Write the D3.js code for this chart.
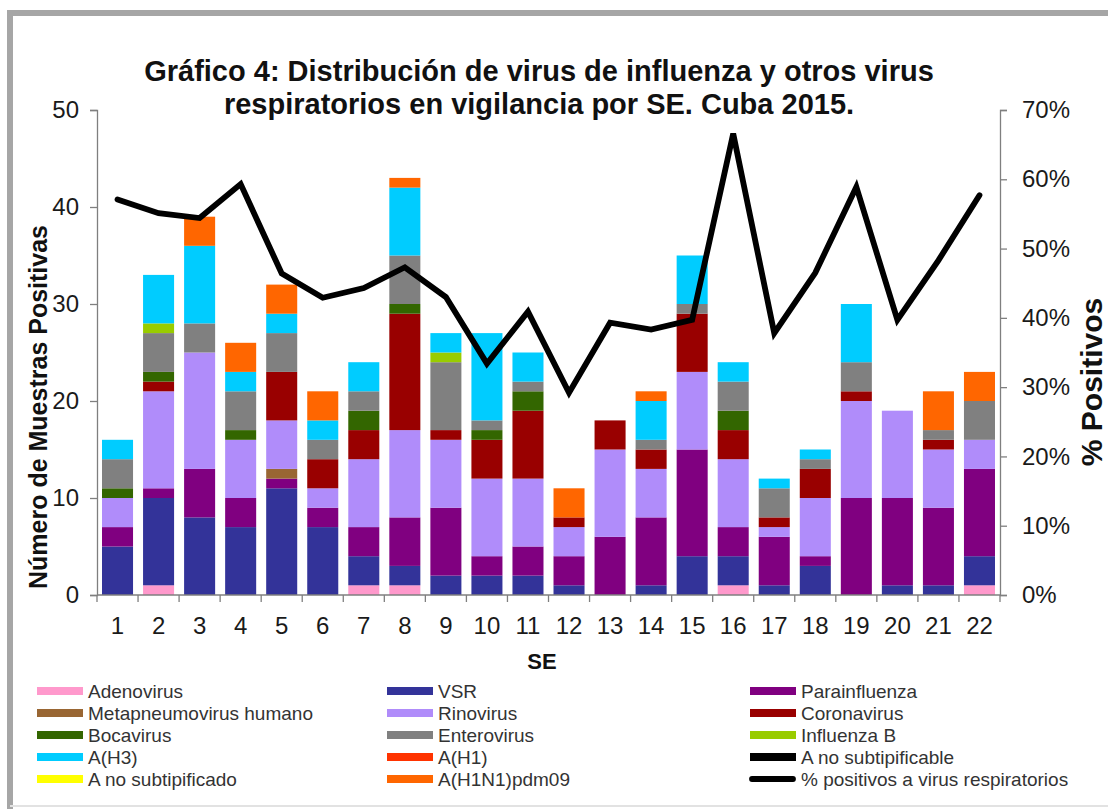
<!DOCTYPE html>
<html><head><meta charset="utf-8">
<script src="https://cdn.jsdelivr.net/npm/d3@7"></script>
<style>
html,body{margin:0;padding:0;background:#fff;}
svg text{font-family:"Liberation Sans",Arial,sans-serif;}
</style></head>
<body>
<svg id="chart" width="1108" height="809"></svg>
<script>
const weeks = ["1","2","3","4","5","6","7","8","9","10","11","12","13","14","15","16","17","18","19","20","21","22"];
const seriesNames = ["Adenovirus","VSR","Parainfluenza","Metapneumovirus humano","Rinovirus","Coronavirus","Bocavirus","Enterovirus","Influenza  B","A(H3)","A(H1)","A no subtipificable","A no subtipificado","A(H1N1)pdm09"];
const seriesColors = ["#FF99CC","#333399","#800080","#996633","#B08CFA","#990000","#336600","#808080","#99CC00","#00CCFF","#FF3300","#000000","#FFFF00","#FF6600"];
const adenovirus     = [0,1,0,0,0,0,1,1,0,0,0,0,0,0,0,1,0,0,0,0,0,1];
const vsr            = [5,9,8,7,11,7,3,2,2,2,2,1,0,1,4,3,1,3,0,1,1,3];
const parainfluenza  = [2,1,5,3,1,2,3,5,7,2,3,3,6,7,11,3,5,1,10,9,8,9];
const metapneumo     = [0,0,0,0,1,0,0,0,0,0,0,0,0,0,0,0,0,0,0,0,0,0];
const rinovirus      = [3,10,12,6,5,2,7,9,7,8,7,3,9,5,8,7,1,6,10,9,6,3];
const coronavirus    = [0,1,0,0,5,3,3,12,1,4,7,1,3,2,6,3,1,3,1,0,1,0];
const bocavirus      = [1,1,0,1,0,0,2,1,0,1,2,0,0,0,0,2,0,0,0,0,0,0];
const enterovirus    = [3,4,3,4,4,2,2,5,7,1,1,0,0,1,1,3,3,1,3,0,1,4];
const influenzaB     = [0,1,0,0,0,0,0,0,1,0,0,0,0,0,0,0,0,0,0,0,0,0];
const aH3            = [2,5,8,2,2,2,3,7,2,9,3,0,0,4,5,2,1,1,6,0,0,0];
const aH1            = [0,0,0,0,0,0,0,0,0,0,0,0,0,0,0,0,0,0,0,0,0,0];
const aNoSubtipificable = [0,0,0,0,0,0,0,0,0,0,0,0,0,0,0,0,0,0,0,0,0,0];
const aNoSubtipificado  = [0,0,0,0,0,0,0,0,0,0,0,0,0,0,0,0,0,0,0,0,0,0];
const aH1N1pdm09     = [0,0,3,3,3,3,0,1,0,0,0,3,0,1,0,0,0,0,0,0,4,3];
const pctPositivos   = [57.1,55.1,54.4,59.3,46.4,42.9,44.3,47.3,43.0,33.4,40.9,29.2,39.3,38.3,39.7,66.6,37.8,46.5,58.9,39.7,48.3,57.7];
const leftTicks  = [0,10,20,30,40,50];
const rightTicks = [0,0.1,0.2,0.3,0.4,0.5,0.6,0.7];
const lineLabel = "% positivos a virus respiratorios";

const seriesValues = [adenovirus,vsr,parainfluenza,metapneumo,rinovirus,coronavirus,bocavirus,enterovirus,influenzaB,aH3,aH1,aNoSubtipificable,aNoSubtipificado,aH1N1pdm09];

const svg = d3.select("#chart");

// outer frame
svg.append("path").attr("d","M10,809 L10,13 L1108,13").attr("fill","none").attr("stroke","#a6a6a6").attr("stroke-width",6);
svg.append("line").attr("x1",10).attr("x2",1108).attr("y1",806).attr("y2",806).attr("stroke","#e2e2e2").attr("stroke-width",2);

const L = 97, R = 1000, T = 110, B = 595;
const x = d3.scaleBand().domain(weeks).range([L, R]).paddingInner(0.244).paddingOuter(0.122);
const y = d3.scaleLinear().domain([0,50]).range([B, T]);
const y2 = d3.scaleLinear().domain([0,0.7]).range([B, T]);

// stacked data
const table = weeks.map((w,i) => {
  const o = {week:w};
  seriesNames.forEach((n,k) => o[n] = seriesValues[k][i]);
  return o;
});
const stack = d3.stack().keys(seriesNames)(table);
const color = d3.scaleOrdinal().domain(seriesNames).range(seriesColors);

svg.append("g").selectAll("g").data(stack).join("g")
  .attr("fill", d => color(d.key))
  .selectAll("rect").data(d => d).join("rect")
  .attr("x", d => x(d.data.week))
  .attr("width", x.bandwidth())
  .attr("y", d => y(d[1]))
  .attr("height", d => y(d[0]) - y(d[1]));

// axes
const axisColor = "#7f7f7f";
const gL = svg.append("g").attr("transform",`translate(${L},0)`)
  .call(d3.axisLeft(y).tickValues(leftTicks).tickSize(7).tickPadding(11).tickFormat(d3.format("d")));
const gR = svg.append("g").attr("transform",`translate(${R},0)`)
  .call(d3.axisRight(y2).tickValues(rightTicks).tickSize(7).tickPadding(15).tickFormat(d3.format(".0%")));
const gB = svg.append("g").attr("transform",`translate(0,${B})`)
  .call(d3.axisBottom(x).tickSize(0).tickPadding(22));
[gL,gR,gB].forEach(g => {
  g.select(".domain").attr("stroke",axisColor).attr("stroke-width",1.3);
  g.selectAll(".tick line").attr("stroke",axisColor).attr("stroke-width",1.3);
  g.selectAll(".tick text").attr("fill","#1a1a1a").style("font-size","24px").style("font-family","'Liberation Sans',Arial,sans-serif");
});
gB.select(".domain").attr("d",`M${L},0H${R}`);
// category boundary ticks
const bounds = weeks.map(w => x(w) - x.step()*x.paddingInner()/2).concat([R]);
gB.selectAll("line.bt").data(bounds).join("line").attr("class","bt")
  .attr("x1",d=>d).attr("x2",d=>d).attr("y1",0).attr("y2",7)
  .attr("stroke",axisColor).attr("stroke-width",1.3);

// line
const line = d3.line().x((d,i) => x(weeks[i]) + x.bandwidth()/2).y(d => y2(d/100));
svg.append("path").datum(pctPositivos).attr("d",line)
  .attr("fill","none").attr("stroke","#000").attr("stroke-width",5.8)
  .attr("stroke-linejoin","miter").attr("stroke-linecap","round");

// titles
svg.append("text").attr("x",539).attr("y",81).attr("text-anchor","middle").style("font-size","29px").style("font-weight","bold").attr("fill","#111")
  .text("Gráfico 4: Distribución de virus de influenza y otros virus");
svg.append("text").attr("x",539).attr("y",114).attr("text-anchor","middle").style("font-size","29px").style("font-weight","bold").attr("fill","#111")
  .text("respiratorios en vigilancia por SE. Cuba 2015.");

svg.append("text").attr("transform","translate(47,407) rotate(-90)").attr("text-anchor","middle")
  .style("font-size","25px").style("font-weight","bold").attr("fill","#111").text("Número de Muestras Positivas");
svg.append("text").attr("transform","translate(1102,382) rotate(-90)").attr("text-anchor","middle")
  .style("font-size","30px").style("font-weight","bold").attr("fill","#111").text("% Positivos");
svg.append("text").attr("x",542).attr("y",669).attr("text-anchor","middle")
  .style("font-size","22px").style("font-weight","bold").attr("fill","#111").text("SE");

// legend
const colX = [37, 387, 750];
const rowY = [691, 713, 735, 757, 779];
const legendItems = seriesNames.map((n,i) => ({name:n, color:seriesColors[i], type:"rect"}))
  .concat([{name:lineLabel, color:"#000", type:"line"}]);
const lg = svg.append("g");
legendItems.forEach((it,i) => {
  const cx = colX[i % 3], cy = rowY[Math.floor(i / 3)];
  if (it.type === "rect") {
    lg.append("rect").attr("x",cx).attr("y",cy-4).attr("width",46).attr("height",8).attr("fill",it.color);
  } else {
    lg.append("line").attr("x1",cx+2).attr("x2",cx+43).attr("y1",cy).attr("y2",cy)
      .attr("stroke",it.color).attr("stroke-width",5.8).attr("stroke-linecap","round");
  }
  lg.append("text").attr("x",cx+51).attr("y",cy+6.5).style("font-size","19px").attr("fill","#333").text(it.name);
});
</script>
</body></html>
